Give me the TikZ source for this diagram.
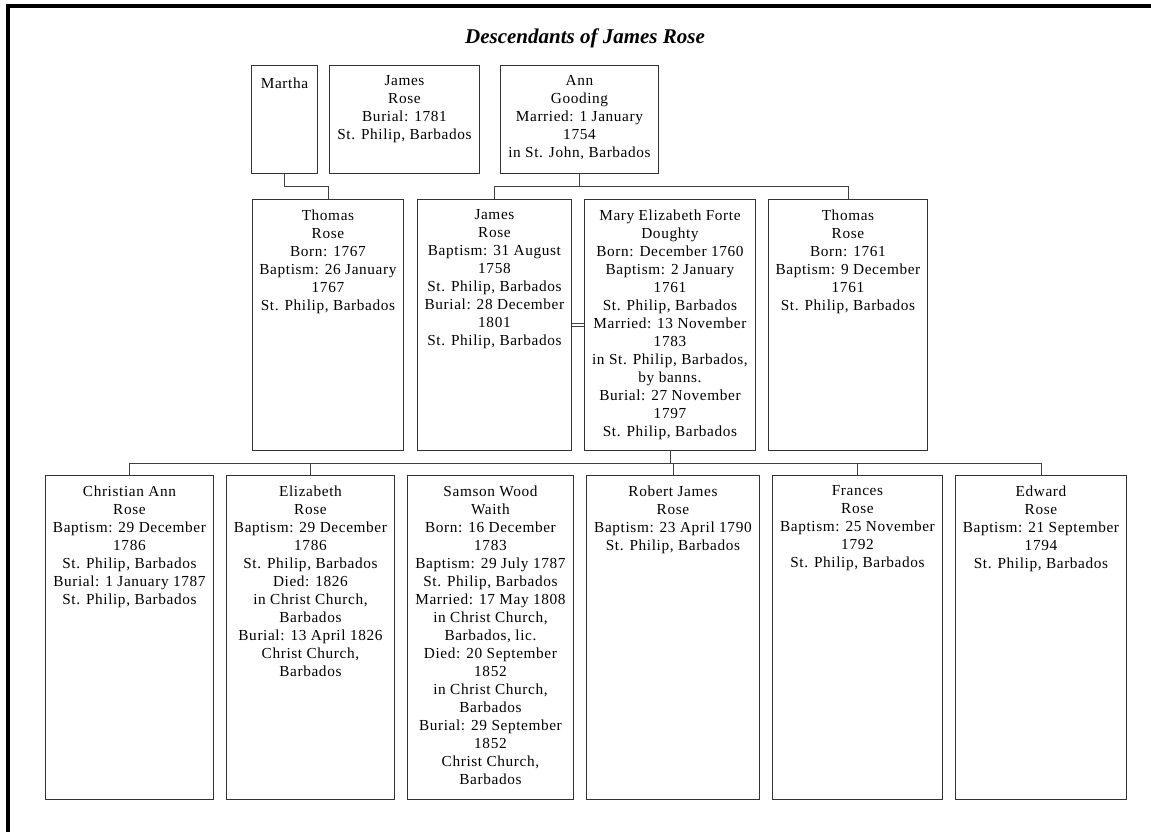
\documentclass[tikz,border=0pt]{standalone}
\usepackage{fontspec}
\setmainfont{Liberation Serif}[LetterSpace=4]
\newfontfamily\titlefont{Liberation Serif}
\tikzset{
  pbox/.style={draw=black!80, line width=0.9pt, rectangle, inner sep=0pt, anchor=north west},
  ptext/.style={align=center, inner sep=0pt, anchor=north, text=black,
    font=\fontsize{15.3}{18}\selectfont, execute at begin node=\strut},
  wire/.style={draw=black!75, line width=0.9pt},
  wed/.style={draw=black!75, double=white, double distance=2.1pt, line width=0.9pt},
  frame/.style={line width=4pt, draw=black},
  titletext/.style={font=\titlefont\fontsize{21}{24}\selectfont\bfseries\itshape, inner sep=0pt, anchor=base}
}
\newcommand\fambox[6]{%
  \node[pbox, minimum width={(#4-#2)*1pt}, minimum height={(#5-#3)*1pt}] (#1) at (#2pt,-#3pt) {};
  \node[ptext] (#1-t) at ([yshift=-10.4pt]#1.north) {#6};
}
\begin{document}
\begin{tikzpicture}[x=1pt,y=1pt]
\useasboundingbox (0,0) rectangle (1151,-831);
\draw[frame] (8,-845) -- (8,-6) -- (1165,-6);
\node[titletext] (title) at (585,-43.3) {Descendants of James Rose};

% top row
\fambox{Martha}{251}{65}{317}{173}{Martha}
\fambox{JamesA}{329}{65}{479}{173}{James\\Rose\\Burial: 1781\\St. Philip, Barbados}
\fambox{Ann}{500}{65}{658}{173}{Ann\\Gooding\\Married: 1 January\\1754\\in St. John, Barbados}

% second row
\fambox{ThomasA}{252}{199}{403}{450}{Thomas\\Rose\\Born: 1767\\Baptism: 26 January\\1767\\St. Philip, Barbados}
\fambox{JamesB}{417}{199}{571}{450}{James\\Rose\\Baptism: 31 August\\1758\\St. Philip, Barbados\\Burial: 28 December\\1801\\St. Philip, Barbados}
\fambox{Mary}{584}{199}{755}{450}{Mary Elizabeth Forte\\Doughty\\Born: December 1760\\Baptism: 2 January\\1761\\St. Philip, Barbados\\Married: 13 November\\1783\\in St. Philip, Barbados,\\by banns.\\Burial: 27 November\\1797\\St. Philip, Barbados}
\fambox{ThomasB}{768}{199}{927}{450}{Thomas\\Rose\\Born: 1761\\Baptism: 9 December\\1761\\St. Philip, Barbados}

% third row
\fambox{Christian}{45}{475}{213}{799}{Christian Ann\\Rose\\Baptism: 29 December\\1786\\St. Philip, Barbados\\Burial: 1 January 1787\\St. Philip, Barbados}
\fambox{Elizabeth}{226}{475}{394}{799}{Elizabeth\\Rose\\Baptism: 29 December\\1786\\St. Philip, Barbados\\Died: 1826\\in Christ Church,\\Barbados\\Burial: 13 April 1826\\Christ Church,\\Barbados}
\fambox{Samson}{407}{475}{573}{799}{Samson Wood\\Waith\\Born: 16 December\\1783\\Baptism: 29 July 1787\\St. Philip, Barbados\\Married: 17 May 1808\\in Christ Church,\\Barbados, lic.\\Died: 20 September\\1852\\in Christ Church,\\Barbados\\Burial: 29 September\\1852\\Christ Church,\\Barbados}
\fambox{Robert}{586}{475}{759}{799}{Robert James\\Rose\\Baptism: 23 April 1790\\St. Philip, Barbados}
\fambox{Frances}{772}{475}{942}{799}{Frances\\Rose\\Baptism: 25 November\\1792\\St. Philip, Barbados}
\fambox{Edward}{955}{475}{1126}{799}{Edward\\Rose\\Baptism: 21 September\\1794\\St. Philip, Barbados}

% marriages
\draw[wed] (Martha.east) -- (JamesA.west);
\draw[wed] (JamesA.east) -- (Ann.west);
\draw[wed] (JamesB.east) -- (Mary.west);
\draw[wed] (Elizabeth.east) -- (Samson.west);

% descent lines
\coordinate (jMartha) at ([yshift=-13pt]Martha.south);
\draw[wire] (Martha.south) -- (jMartha) -| (ThomasA.north);

\coordinate (jAnn) at ([yshift=-13pt]Ann.south);
\draw[wire] (Ann.south) -- (jAnn);
\draw[wire] (JamesB.north) |- (jAnn) -| (ThomasB.north);

\coordinate (jMary) at ([yshift=-13pt]Mary.south);
\draw[wire] (Mary.south) -- (jMary);
\draw[wire] (Christian.north) |- (jMary) -| (Edward.north);
\foreach \c in {Elizabeth,Robert,Frances}
  \draw[wire] (\c.north) -- (\c.north |- jMary);
\end{tikzpicture}
\end{document}
